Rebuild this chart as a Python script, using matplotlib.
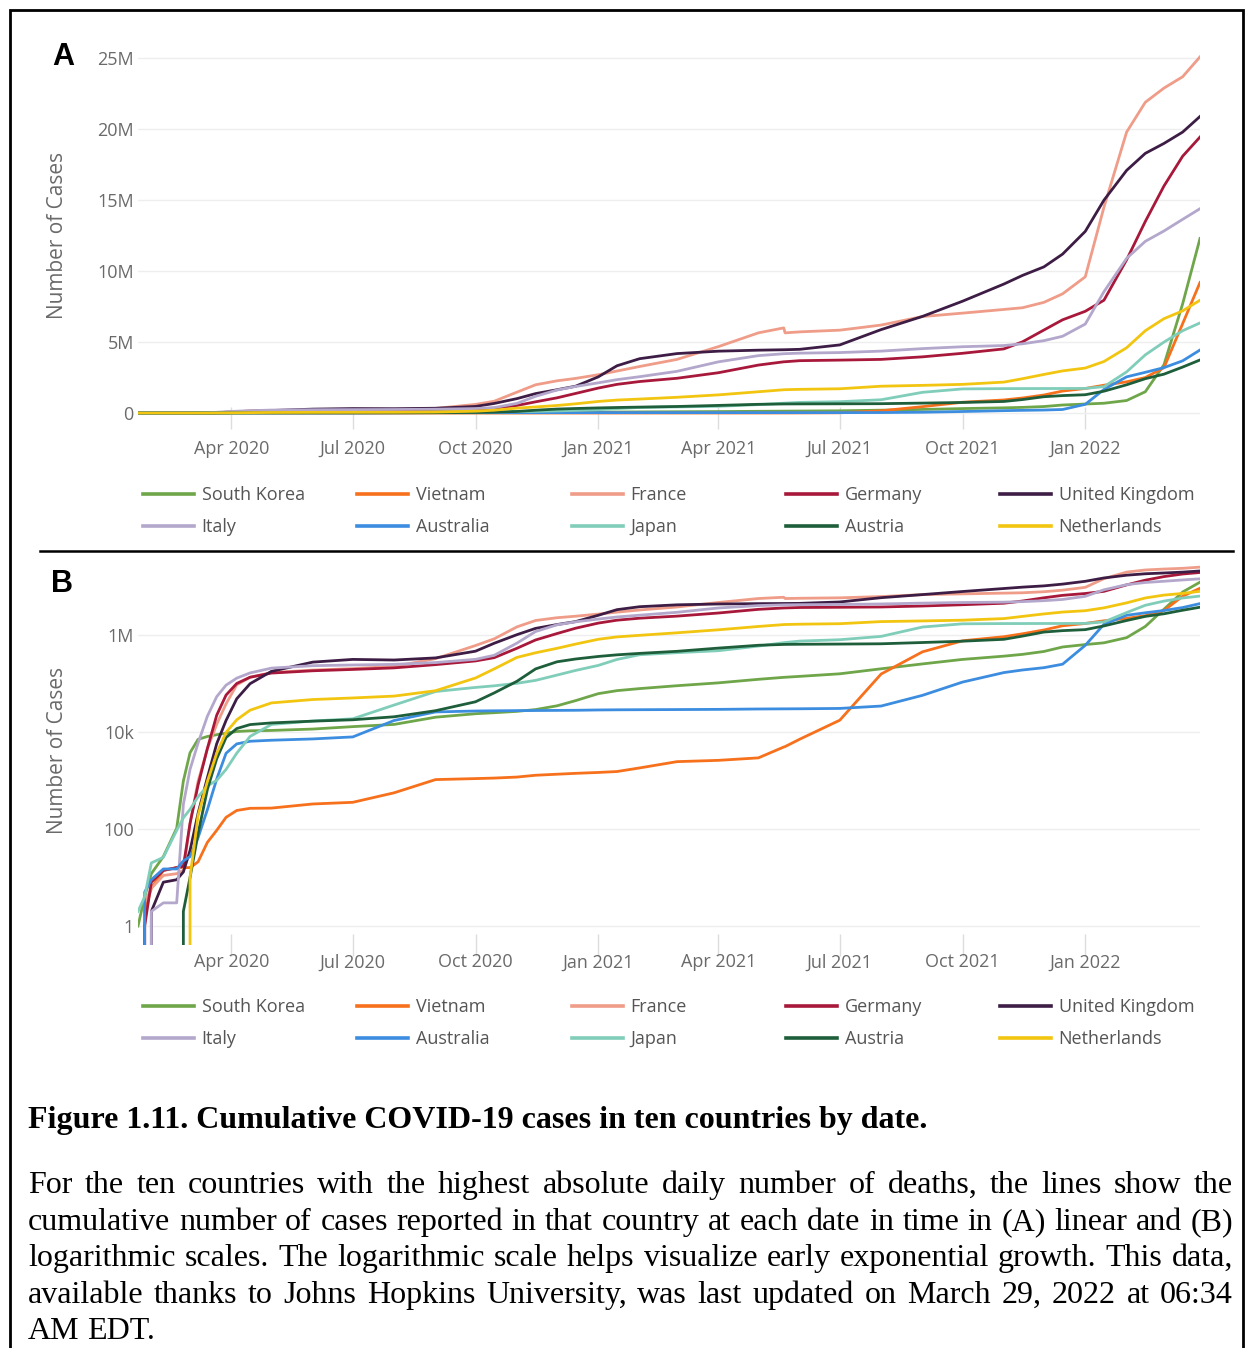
import numpy as np
import pandas as pd
import matplotlib
matplotlib.use("Agg")
import matplotlib.pyplot as plt
from matplotlib.lines import Line2D
from matplotlib.patches import Rectangle
from matplotlib.ticker import FixedLocator, FuncFormatter
import matplotlib.dates as mdates

W, H = 1250, 1348

# cumulative cases (Johns Hopkins), sampled on a common date grid
dates = ["2020-01-22", "2020-01-27", "2020-02-01", "2020-02-10", "2020-02-20", "2020-02-25",
         "2020-03-01", "2020-03-07", "2020-03-14", "2020-03-21", "2020-03-28", "2020-04-05",
         "2020-04-15", "2020-05-01", "2020-06-01", "2020-07-01", "2020-08-01", "2020-09-01",
         "2020-10-01", "2020-10-15", "2020-11-01", "2020-11-15", "2020-12-01", "2020-12-15",
         "2021-01-01", "2021-01-15", "2021-02-01", "2021-03-01", "2021-04-01", "2021-05-01",
         "2021-05-20", "2021-05-21", "2021-06-01", "2021-07-01", "2021-08-01", "2021-09-01",
         "2021-10-01", "2021-11-01", "2021-11-15", "2021-12-01", "2021-12-15", "2022-01-01",
         "2022-01-15", "2022-02-01", "2022-02-15", "2022-03-01", "2022-03-15", "2022-03-28"]

south_korea = [1, 4, 12, 27, 104, 977, 3736, 7041, 8086, 8799, 9478, 10237, 10591, 10774, 11503,
               12904, 14336, 20182, 23812, 24988, 26635, 28998, 34652, 44364, 61769, 71241, 78508,
               90029, 103088, 122007, 134000, 134500, 140340, 158549, 200994, 253445, 313773,
               366386, 399000, 457612, 566000, 635000, 690000, 882000, 1500000, 3400000, 7700000,
               12300000]
vietnam = [0, 2, 6, 14, 16, 16, 16, 21, 53, 94, 174, 241, 267, 270, 328, 355, 558, 1044, 1095,
           1122, 1177, 1283, 1347, 1405, 1465, 1531, 1817, 2448, 2603, 2928, 4900, 5000, 7107,
           17500, 157000, 450000, 760000, 921000, 1060000, 1270000, 1550000, 1730000, 1960000,
           2200000, 2500000, 3200000, 6300000, 9200000]
france = [0, 3, 6, 11, 12, 14, 130, 957, 4499, 14463, 38105, 93790, 134000, 168000, 189000, 203000,
          225000, 325000, 607000, 834000, 1470000, 1990000, 2270000, 2440000, 2700000, 2960000,
          3280000, 3780000, 4680000, 5650000, 6000000, 5650000, 5720000, 5840000, 6200000, 6800000,
          7040000, 7300000, 7420000, 7800000, 8400000, 9600000, 14500000, 19800000, 21900000,
          22900000, 23700000, 25100000]
germany = [0, 1, 8, 14, 16, 17, 130, 800, 4585, 22213, 57695, 100123, 134753, 164077, 183000,
           195000, 210000, 245000, 292000, 341000, 532000, 790000, 1070000, 1380000, 1760000,
           2020000, 2220000, 2450000, 2840000, 3380000, 3610000, 3615000, 3690000, 3730000, 3780000,
           3960000, 4210000, 4520000, 5020000, 5850000, 6570000, 7170000, 7950000, 10800000,
           13500000, 16000000, 18100000, 19450000]
united_kingdom = [0, 0, 2, 8, 9, 13, 36, 209, 1143, 5745, 17312, 48451, 99000, 178000, 276000,
                  314000, 305000, 337000, 464000, 676000, 1015000, 1370000, 1640000, 1890000,
                  2550000, 3330000, 3830000, 4190000, 4360000, 4430000, 4460000, 4461000, 4490000,
                  4800000, 5880000, 6810000, 7880000, 9090000, 9700000, 10300000, 11200000,
                  12800000, 15000000, 17100000, 18300000, 19000000, 19800000, 20900000]
italy = [0, 0, 2, 3, 3, 322, 1694, 5883, 21157, 53578, 92472, 128948, 165155, 207428, 233019,
         240760, 248070, 270189, 314861, 381602, 679430, 1178529, 1620901, 1870576, 2129376,
         2352423, 2560957, 2938371, 3607083, 4044762, 4178261, 4183476, 4220304, 4260788, 4363374,
         4539991, 4672355, 4756324, 4880000, 5100000, 5410000, 6270000, 8550000, 10900000,
         12100000, 12830000, 13650000, 14400000]
australia = [0, 5, 9, 15, 15, 22, 27, 66, 250, 1071, 3640, 5687, 6447, 6766, 7195, 7920, 17280,
             25923, 27096, 27362, 27595, 27722, 27894, 28046, 28475, 28683, 28818, 29021, 29285,
             29815, 30006, 30010, 30117, 30610, 34300, 57000, 107000, 168000, 190000, 212000,
             250000, 612000, 1660000, 2550000, 2870000, 3200000, 3680000, 4440000]
japan = [2, 4, 20, 26, 94, 170, 254, 461, 773, 1007, 1693, 3654, 8100, 14305, 16851, 18723, 36000,
         68400, 83000, 89600, 101000, 116000, 149000, 186000, 236000, 313000, 392000, 432000,
         474000, 591000, 694000, 699000, 749000, 799000, 936000, 1460000, 1700000, 1720000,
         1723000, 1727000, 1729000, 1734000, 1860000, 2900000, 4100000, 5000000, 5800000, 6350000]
austria = [0, 0, 0, 0, 0, 2, 10, 79, 655, 2814, 7697, 11781, 14226, 15402, 16733, 17873, 20600,
           27500, 42000, 64000, 111000, 200000, 280000, 320000, 361000, 390000, 418000, 461000,
           537000, 614000, 639000, 640000, 644000, 650000, 659000, 700000, 745000, 815000, 950000,
           1150000, 1230000, 1290000, 1540000, 1990000, 2420000, 2740000, 3240000, 3740000]
netherlands = [0, 0, 0, 0, 0, 0, 10, 188, 959, 3640, 9819, 17851, 28153, 39791, 46733, 50355,
               55000, 71000, 130000, 200000, 345000, 430000, 531000, 650000, 816000, 914000, 985000,
               1110000, 1280000, 1500000, 1640000, 1645000, 1670000, 1710000, 1890000, 1950000,
               2020000, 2180000, 2420000, 2720000, 2970000, 3170000, 3630000, 4600000, 5800000,
               6650000, 7200000, 7950000]

countries = ["South Korea", "Vietnam", "France", "Germany", "United Kingdom",
             "Italy", "Australia", "Japan", "Austria", "Netherlands"]
series = [south_korea, vietnam, france, germany, united_kingdom,
          italy, australia, japan, austria, netherlands]
colors = ["#6fa64a", "#f7701c", "#ef9c88", "#a8183a", "#3d1d45",
          "#b3a7cc", "#3c8de0", "#80cdb9", "#1e5e3a", "#f2c511"]

lin_ticks = [0, 5e6, 10e6, 15e6, 20e6, 25e6]
lin_labels = ["0", "5M", "10M", "15M", "20M", "25M"]
log_ticks = [1, 100, 1e4, 1e6]
log_labels = ["1", "100", "10k", "1M"]
month_ticks = ["2020-04-01", "2020-07-01", "2020-10-01", "2021-01-01",
               "2021-04-01", "2021-07-01", "2021-10-01", "2022-01-01"]

caption_title = "Figure 1.11. Cumulative COVID-19 cases in ten countries by date."
caption_lines = [
    "For the ten countries with the highest absolute daily number of deaths, the lines show the",
    "cumulative number of cases reported in that country at each date in time in (A) linear and (B)",
    "logarithmic scales. The logarithmic scale helps visualize early exponential growth. This data,",
    "available thanks to Johns Hopkins University, was last updated on March 29, 2022 at 06:34",
    "AM EDT.",
]

plt.rcParams['font.family'] = ['Open Sans', 'DejaVu Sans']
x = pd.to_datetime(dates)
tick_color = "#6a6a6a"


def fx(px):
    return px / W


def fy(py):
    return 1 - py / H


fig = plt.figure(figsize=(W / 100, H / 100), dpi=100)


def style_axes(ax, xpad):
    for s in ax.spines.values():
        s.set_visible(False)
    ax.set_xlim(pd.Timestamp("2020-01-22"), pd.Timestamp("2022-03-28"))
    ax.xaxis.set_major_locator(FixedLocator(mdates.date2num(pd.to_datetime(month_ticks))))
    ax.xaxis.set_major_formatter(mdates.DateFormatter("%b %Y"))
    ax.tick_params(axis='x', colors="#dddddd", labelcolor=tick_color, labelsize=13,
                   length=16, width=1, direction='inout', pad=xpad)
    ax.tick_params(axis='y', length=0, labelcolor=tick_color, labelsize=13, pad=3)
    ax.grid(axis='y', color="#eeeeee", lw=1)
    ax.set_axisbelow(True)
    ax.set_ylabel("Number of Cases", fontsize=15, color=tick_color)


# panel A, linear
axA = fig.add_axes([fx(138), fy(418), (1200 - 138) / W, (418 - 37) / H])
for name, vals, c in zip(countries, series, colors):
    axA.plot(x, vals, color=c, lw=2)
axA.set_ylim(-0.35e6, 26.5e6)
axA.set_yticks(lin_ticks)
axA.set_yticklabels(lin_labels)
style_axes(axA, 8)
axA.yaxis.set_label_coords(-0.066, 0.478)

# panel B, log
axB = fig.add_axes([fx(138), fy(945), (1200 - 138) / W, (945 - 563) / H])
for name, vals, c in zip(countries, series, colors):
    axB.plot(x, vals, color=c, lw=2)
axB.set_yscale('log', nonpositive='clip')
axB.set_ylim(10 ** (-(945 - 926) / 48.5), 10 ** ((926 - 563) / 48.5))
axB.yaxis.set_major_locator(FixedLocator(log_ticks))
axB.yaxis.set_major_formatter(FuncFormatter(lambda v, p: log_labels[log_ticks.index(v)] if v in log_ticks else ""))
axB.yaxis.set_minor_locator(FixedLocator([]))
style_axes(axB, -2)
axB.yaxis.set_label_coords(-0.066, 0.51)

# legends: five columns of two rows each
col_x = [143, 357, 572, 786, 1000]
for top in (486, 998):
    for i, cx in enumerate(col_x):
        names = [countries[i], countries[i + 5]]
        handles = [Line2D([], [], color=colors[i], lw=2.6), Line2D([], [], color=colors[i + 5], lw=2.6)]
        fig.legend(handles, names, loc='upper left', bbox_to_anchor=(fx(cx), fy(top)),
                   frameon=False, fontsize=13, handlelength=2.8, handletextpad=0.45,
                   borderpad=0, borderaxespad=0, labelspacing=0.78, labelcolor="#555555")

# panel letters
fig.text(fx(63), fy(57), "A", fontsize=22, fontweight='bold', ha='center', va='center',
         family='Liberation Sans')
fig.text(fx(62), fy(584), "B", fontsize=22, fontweight='bold', ha='center', va='center',
         family='Liberation Sans')

# frame and separator
fig.add_artist(Rectangle((fx(10), -0.01), fx(1243) - fx(10), fy(10) + 0.01,
                         transform=fig.transFigure, fill=False, lw=2, color='black'))
fig.add_artist(Line2D([fx(40), fx(1233)], [fy(551), fy(551)], transform=fig.transFigure,
                      color='black', lw=1.8))

# caption, justified like the source page
fig.text(fx(28), fy(1128), caption_title, fontsize=23, fontweight='bold', family='Liberation Serif',
         ha='left', va='baseline')
renderer = fig.canvas.get_renderer()
line_base = [1193, 1230, 1266, 1303, 1339]
left, right = 28, 1233
for k, (line, yy) in enumerate(zip(caption_lines, line_base)):
    words = line.split()
    texts = [fig.text(0, fy(yy), w, fontsize=23, family='Liberation Serif', ha='left', va='baseline')
             for w in words]
    widths = [t.get_window_extent(renderer).width for t in texts]
    if k < len(caption_lines) - 1 and len(words) > 1:
        gap = (right - left - sum(widths)) / (len(words) - 1)
    else:
        gap = 7
    pos = left
    for t, w in zip(texts, widths):
        t.set_x(fx(pos))
        pos += w + gap

fig.savefig("out.png", dpi=100)
